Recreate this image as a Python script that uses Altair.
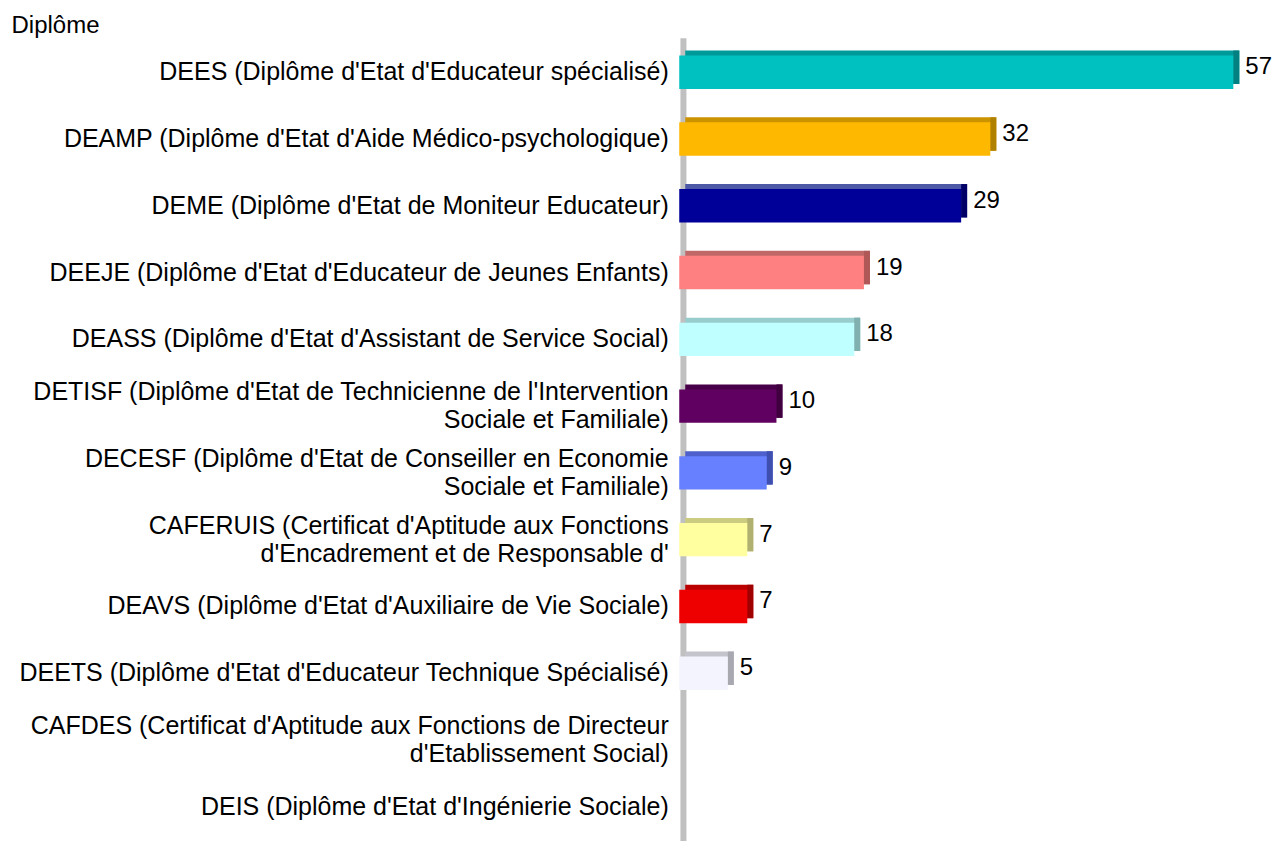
import altair as alt
import pandas as pd

categories = [
    "DEES (Diplôme d'Etat d'Educateur spécialisé)",
    "DEAMP (Diplôme d'Etat d'Aide Médico-psychologique)",
    "DEME (Diplôme d'Etat de Moniteur Educateur)",
    "DEEJE (Diplôme d'Etat d'Educateur de Jeunes Enfants)",
    "DEASS (Diplôme d'Etat d'Assistant de Service Social)",
    "DETISF (Diplôme d'Etat de Technicienne de l'Intervention|Sociale et Familiale)",
    "DECESF (Diplôme d'Etat de Conseiller en Economie|Sociale et Familiale)",
    "CAFERUIS (Certificat d'Aptitude aux Fonctions|d'Encadrement et de Responsable d'",
    "DEAVS (Diplôme d'Etat d'Auxiliaire de Vie Sociale)",
    "DEETS (Diplôme d'Etat d'Educateur Technique Spécialisé)",
    "CAFDES (Certificat d'Aptitude aux Fonctions de Directeur|d'Etablissement Social)",
    "DEIS (Diplôme d'Etat d'Ingénierie Sociale)",
]
values = [57, 32, 29, 19, 18, 10, 9, 7, 7, 5, None, None]

front_colors = ["#00C0C0", "#FFB800", "#000099", "#FF8080", "#C0FFFF",
                "#600060", "#6680FF", "#FFFFA0", "#EE0000", "#F4F4FF",
                "#FFFFFF", "#FFFFFF"]
top_colors = ["#009999", "#CC9300", "#4D58A6", "#C06868", "#99CCCC",
              "#480048", "#4D60CC", "#CCCC80", "#BB0000", "#C4C4CC",
              "#FFFFFF", "#FFFFFF"]
side_colors = ["#008080", "#B08000", "#000066", "#B05858", "#80B0B0",
               "#400040", "#3F4FB0", "#B0B070", "#A00000", "#A8A8B0",
               "#FFFFFF", "#FFFFFF"]

df = pd.DataFrame({"diplome": categories, "n": values})
axis_df = pd.DataFrame({"k": [0]})

W = 600
H = 803
FONT = "Liberation Sans"

xscale = alt.Scale(domain=[0, 61.7], nice=False, zero=True)
yscale = alt.Scale(domain=categories, paddingInner=0.5, paddingOuter=0.26)

yaxis = alt.Axis(
    title="Diplôme", titleAngle=0, titleAlign="left", titleBaseline="alphabetic",
    titleX=11 - 679.5, titleY=32 - 38, titleFont=FONT, titleFontSize=24,
    titleFontWeight="normal", titleColor="black",
    labelFont=FONT, labelFontSize=25, labelColor="black", labelPadding=11,
    labelLimit=700, labelExpr="split(datum.label, '|')", labelLineHeight=28,
    labelOffset={"condition": {"test": "indexof(datum.label, '|') >= 0", "value": -14}, "value": 0},
    ticks=False, domain=False, grid=False,
)

x_enc = alt.X("n:Q", scale=xscale, axis=None)
y_enc = alt.Y("diplome:N", scale=yscale, sort=categories, axis=yaxis)

axis_line = alt.Chart(axis_df).mark_rule(color="#c0c0c0", strokeWidth=6).encode(
    x=alt.value(4.2), y=alt.value(0), y2=alt.value(H + 10)
)

top_face = alt.Chart(df).mark_bar(xOffset=6, x2Offset=4, yOffset=-5, y2Offset=-5).encode(
    x=x_enc, y=y_enc,
    color=alt.Color("diplome:N", scale=alt.Scale(domain=categories, range=top_colors), legend=None),
)

side_face = alt.Chart(df).transform_filter("isValid(datum.n)").mark_bar(
    xOffset=6, x2Offset=0, yOffset=-5, y2Offset=-5
).encode(
    x=x_enc, x2="n:Q", y=y_enc,
    fill=alt.Fill("diplome:N", scale=alt.Scale(domain=categories, range=side_colors), legend=None),
)

front = alt.Chart(df).mark_bar().encode(
    x=x_enc, y=y_enc,
    fill=alt.Fill("diplome:N", scale=alt.Scale(domain=categories, range=front_colors), legend=None),
)

labels = alt.Chart(df).transform_filter("isValid(datum.n)").mark_text(
    align="left", baseline="middle", dx=12, dy=-5, fontSize=24, font=FONT, color="black"
).encode(x=x_enc, y=y_enc, text="n:Q")

chart = alt.layer(axis_line, top_face, side_face, front, labels).resolve_scale(
    color="independent", fill="independent"
).properties(
    width=W, height=H,
    padding={"left": 671.5, "top": 30, "right": 0, "bottom": 0},
    autosize=alt.AutoSizeParams(type="none"),
).configure_view(stroke=None)

chart.save("out.html", embed_options={"renderer": "svg", "actions": False})
